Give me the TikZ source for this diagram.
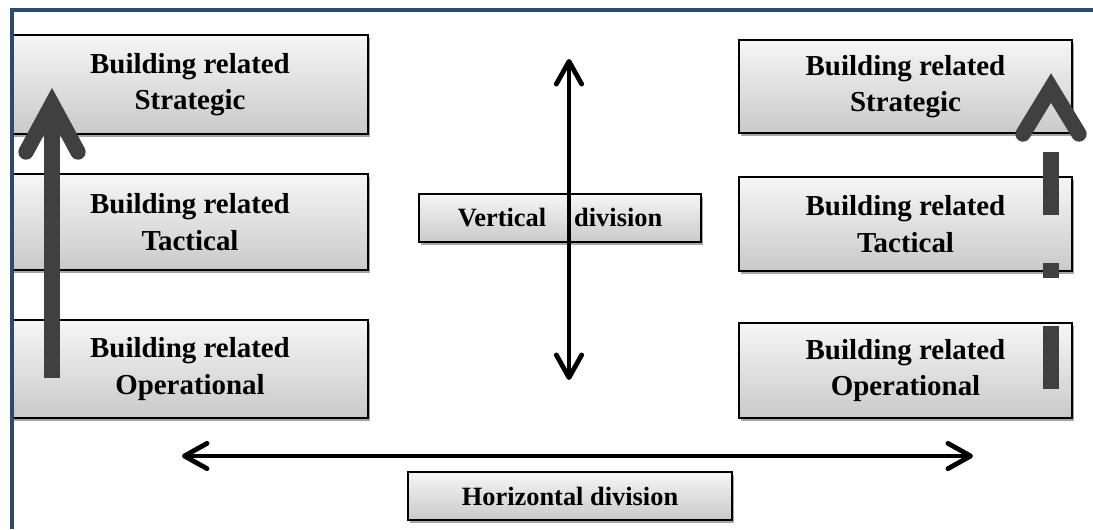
\documentclass[tikz,border=0pt]{standalone}
\usepackage{fontspec}
\setmainfont{Liberation Serif}
\usetikzlibrary{arrows.meta,shadows}
\definecolor{frameblue}{HTML}{2B4A6C}
\definecolor{arrowgray}{HTML}{404040}
\begin{document}
\begin{tikzpicture}[x=0.75pt,y=-0.75pt,
  box/.style={draw=black, line width=1.1pt, top color=gray!7, bottom color=gray!42,
    drop shadow={shadow xshift=1.5pt, shadow yshift=-2.2pt, opacity=0.35, fill=black},
    align=center, inner sep=0pt},
  bigtxt/.style={font=\fontsize{21.7}{27.5}\selectfont\bfseries},
  smalltxt/.style={font=\fontsize{19.8}{23}\selectfont\bfseries},
  thinarrow/.style={line width=3pt, black,
    {Straight Barb[length=17pt,width=19pt,line width=3.6pt,round]}-{Straight Barb[length=17pt,width=19pt,line width=3.6pt,round]}},
  shaft/.style={arrowgray, line width=11.5pt},
  chevron/.style={arrowgray, line width=11.5pt, line cap=round, line join=miter},
]
\useasboundingbox (0,0) rectangle (1093,529);
\fill[white] (0,0) rectangle (1093,529);

% left column
\node[box, bigtxt, minimum width=267pt, minimum height=74.25pt] (l1) at (190,84.5) {Building related\\Strategic};
\node[box, bigtxt, minimum width=267pt, minimum height=72pt] (l2) at (190,222) {Building related\\Tactical};
\node[box, bigtxt, minimum width=267pt, minimum height=73.5pt] (l3) at (190,369) {Building related\\Operational};

% right column
\node[box, bigtxt, minimum width=249.75pt, minimum height=69.75pt] (r1) at (905.5,86.5) {Building related\\Strategic};
\node[box, bigtxt, minimum width=249.75pt, minimum height=70.5pt] (r2) at (905.5,224) {Building related\\Tactical};
\node[box, bigtxt, minimum width=249.75pt, minimum height=71.25pt] (r3) at (905.5,370.5) {Building related\\Operational};

% middle
\node[box, smalltxt, minimum width=211.5pt, minimum height=36pt] (vdiv) at (560,218) {Vertical\hspace{21pt}division};
\node[box, smalltxt, minimum width=243pt, minimum height=36pt] (hdiv) at (570,496) {Horizontal division};

% division arrows
\coordinate (vtop) at (569,59);
\coordinate (vbot) at (569,380);
\coordinate (hleft) at (182,456);
\coordinate (hright) at (973,456);
\draw[thinarrow] (vbot) -- (vtop);
\draw[thinarrow] (hleft) -- (hright);

% left big arrow
\coordinate (lbase) at (52,378);
\coordinate (lapex) at (52,104);
\coordinate (lwl) at (26,152);
\coordinate (lwr) at (78,152);
\draw[shaft] (lbase) -- (lapex);
\draw[chevron] (lwl) -- (lapex) -- (lwr);

% right dashed arrow
\coordinate (rbase) at (1051,389);
\coordinate (rtop) at (1051,150);
\coordinate (rapex) at (1051,88);
\coordinate (rwl) at (1023,134);
\coordinate (rwr) at (1079,134);
\draw[shaft, dash pattern=on 47.25pt off 36pt on 11.25pt off 36pt] (rbase) -- (rtop);
\draw[chevron] (rwl) -- (rapex) -- (rwr);

% frame
\draw[frameblue, line width=3pt, line join=miter] (12,529) -- (12,10) -- (1093,10);
\end{tikzpicture}
\end{document}
